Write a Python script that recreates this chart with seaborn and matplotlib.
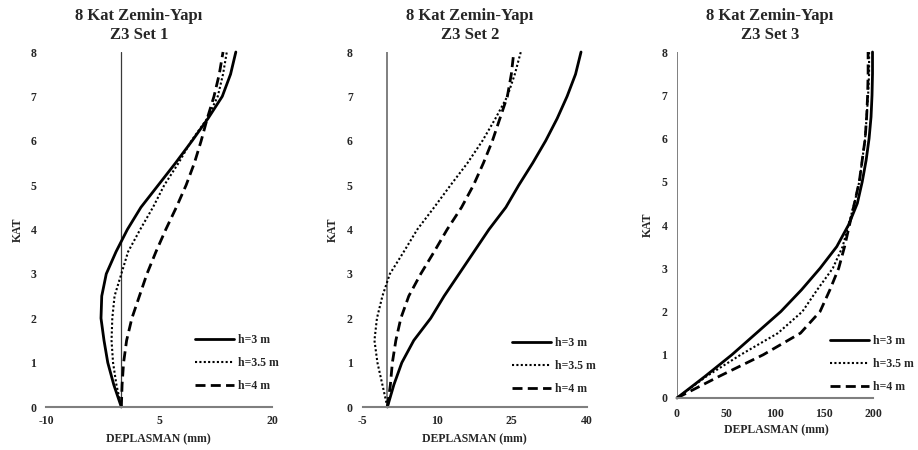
import matplotlib
matplotlib.use("Agg")
import matplotlib.pyplot as plt
import seaborn as sns
import pandas as pd

# ---------------- data ----------------
kat = [0, 0.5, 1, 1.5, 2, 2.5, 3, 3.5, 4, 4.5, 5, 5.5, 6, 6.5, 7, 7.5, 8]

set1_h3 = [0, -1.0, -1.8, -2.3, -2.7, -2.6, -2.0, -0.7, 0.8, 2.6, 4.9, 7.2, 9.4, 11.5, 13.4, 14.5, 15.2]
set1_h35 = [0, -0.65, -1.1, -1.3, -1.2, -0.9, 0.0, 0.9, 2.5, 4.2, 5.7, 7.6, 9.3, 11.4, 12.8, 13.5, 14.0]
set1_h4 = [0, 0.1, 0.3, 0.7, 1.4, 2.4, 3.4, 4.6, 5.9, 7.3, 8.6, 9.7, 10.6, 11.4, 12.3, 13.0, 13.5]

set2_h3 = [0, 1.3, 2.9, 5.3, 8.7, 11.4, 14.4, 17.4, 20.4, 23.8, 26.4, 29.2, 31.8, 34.1, 36.1, 37.8, 38.9]
set2_h35 = [0, -1.0, -2.0, -2.6, -2.1, -1.0, 0.5, 3.3, 6.0, 9.4, 12.7, 16.1, 19.1, 21.7, 24.1, 25.6, 26.8]
set2_h4 = [0, 0.6, 1.0, 1.7, 2.7, 4.3, 6.7, 9.4, 12.0, 14.9, 17.3, 19.3, 21.1, 22.6, 24.1, 24.9, 25.4]

set3_h3 = [0, 28.6, 56, 81, 106, 127, 146, 163, 175, 184, 189, 193, 196, 198, 199, 199.5, 199.5]
set3_h35 = [0, 30, 65, 103, 128, 143, 159, 169, 175, 181, 186, 189, 192, 193.5, 195, 196, 196]
set3_h4 = [0, 43, 88, 126, 146, 156, 165, 171, 176, 181, 186, 189, 192, 193.5, 194.5, 195, 195]

labels = ["h=3 m", "h=3.5 m", "h=4 m"]
titles = ["8 Kat Zemin-Yapı\nZ3 Set 1", "8 Kat Zemin-Yapı\nZ3 Set 2", "8 Kat Zemin-Yapı\nZ3 Set 3"]
xticks = [[-10, 5, 20], [-5, 10, 25, 40], [0, 50, 100, 150, 200]]
yticks = [0, 1, 2, 3, 4, 5, 6, 7, 8]
xlabel = "DEPLASMAN (mm)"
ylabel = "KAT"

series = [
    [set1_h3, set1_h35, set1_h4],
    [set2_h3, set2_h35, set2_h4],
    [set3_h3, set3_h35, set3_h4],
]

# ---------------- style ----------------
sns.set_style("white")
plt.rcParams["font.family"] = ["Liberation Serif", "DejaVu Serif"]
plt.rcParams["font.weight"] = "bold"
plt.rcParams["axes.unicode_minus"] = False

W, H = 918, 450
fig = plt.figure(figsize=(W / 100, H / 100), dpi=100)

# pixel layout: (x_left, x_right, y_bottom, y_top)
boxes = [(46, 272, 407, 52), (362.5, 586.5, 407, 52), (677, 873, 398, 52)]
title_cx = [139, 470, 770]
ylab_cx = [18, 333, 648]
xlab_cx = [158, 474.5, 776.7]
xlab_cy = [439, 439.3, 430]
leg_anchor = [(195, 334), (512, 337), (830, 335)]
xtick_pad = [6, 6, 7]
vline_style = [dict(color="#3a3a3a", lw=0.9), dict(color="#7f7f7f", lw=1.4), dict(color="#7f7f7f", lw=1.4)]
fs = 8.5

styles = [
    dict(linestyle="-", lw=2.0),
    dict(linestyle=(0, (1, 1.1)), lw=1.5),
    dict(linestyle=(0, (3.6, 1.9)), lw=2.0),
]

for i in range(3):
    x0, x1, yb, yt = boxes[i]
    ax = fig.add_axes([x0 / W, (H - yb) / H, (x1 - x0) / W, (yb - yt) / H])
    for s, lab, st in zip(series[i], labels, styles):
        df = pd.DataFrame({"d": s, "k": kat})
        sns.lineplot(data=df, x="d", y="k", ax=ax, sort=False, estimator=None,
                     color="black", label=lab, clip_on=False, **st)
    ax.axvline(0, zorder=0.5, **vline_style[i])
    ax.set_xlim(xticks[i][0], xticks[i][-1])
    ax.set_ylim(0, 8)
    ax.set_xticks(xticks[i])
    ax.set_yticks(yticks)
    ax.tick_params(length=0, labelsize=fs)
    ax.tick_params(axis="x", pad=xtick_pad[i])
    ax.tick_params(axis="y", pad=7)
    for sp in ["top", "right", "left"]:
        ax.spines[sp].set_visible(False)
    ax.spines["bottom"].set_color("#7f7f7f")
    ax.spines["bottom"].set_linewidth(1.5)

    ax.set_xlabel(xlabel, fontsize=fs, fontweight="bold", va="center")
    ax.xaxis.set_label_coords((xlab_cx[i] - x0) / (x1 - x0), (yb - xlab_cy[i]) / (yb - yt))
    ax.set_ylabel(ylabel, fontsize=fs, fontweight="bold", va="center")
    ax.yaxis.set_label_coords((ylab_cx[i] - x0) / (x1 - x0), 0.5)

    ax.set_title(titles[i], fontsize=12, fontweight="bold", pad=0,
                 x=(title_cx[i] - x0) / (x1 - x0), y=(yb - 25.5) / (yb - yt),
                 va="center", linespacing=1.25)

    lx, ly = leg_anchor[i]
    ax.legend(loc="upper left", bbox_to_anchor=(lx / W, 1 - ly / H), bbox_transform=fig.transFigure,
              frameon=False, borderpad=0, borderaxespad=0,
              handlelength=3.3, handletextpad=0.36, labelspacing=0.92,
              prop=dict(weight="bold", size=fs))

fig.savefig("out.png", dpi=100)
